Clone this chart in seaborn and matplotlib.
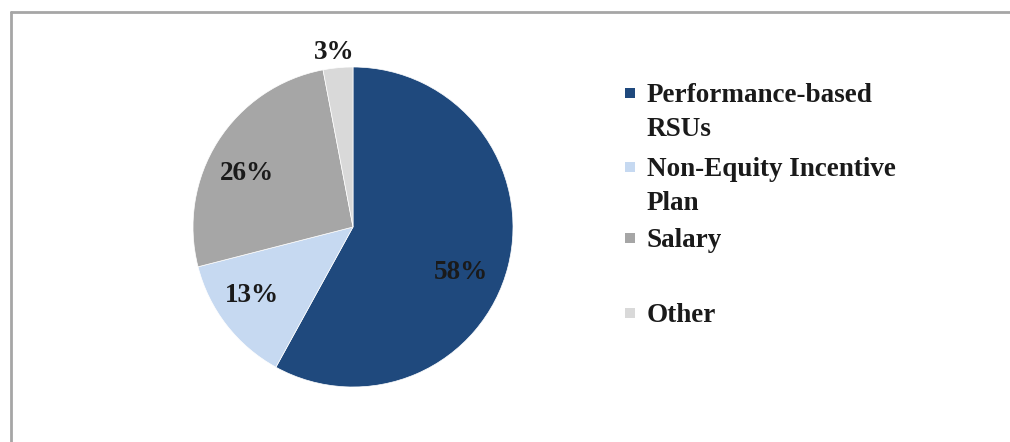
import matplotlib
matplotlib.use("Agg")
import matplotlib.pyplot as plt
import seaborn as sns
import numpy as np
from matplotlib.lines import Line2D
from matplotlib.patches import Rectangle

categories = ["Performance-based\nRSUs", "Non-Equity Incentive\nPlan", "Salary", "Other"]
values = [58, 13, 26, 3]
labels_pct = ["58%", "13%", "26%", "3%"]
colors = ["#1f497d", "#c6d9f1", "#a6a6a6", "#d9d9d9"]

sns.set_theme(style="white")
plt.rcParams['font.family'] = ['Liberation Serif', 'DejaVu Serif']

W, H = 1010, 442
fig = plt.figure(figsize=(W / 100, H / 100), dpi=100)
fig.patch.set_facecolor("white")

cx, cy, r = 353, 227, 160
ax = fig.add_axes([(cx - r) / W, (H - cy - r) / H, 2 * r / W, 2 * r / H])
wedges, _ = ax.pie(values, colors=colors, startangle=90, counterclock=False,
                   radius=1.0, wedgeprops=dict(linewidth=0.5, edgecolor="white"))
ax.set_xlim(-1, 1)
ax.set_ylim(-1, 1)
ax.set_aspect("auto")
ax.axis("off")

# label placement: distance from centre and angular nudge (deg)
dist = [0.73, 0.76, 0.74, 1.10]
nudge = [-8.4, -3.6, 5.6, 0.8]
for w, lab, d, n in zip(wedges, labels_pct, dist, nudge):
    ang = np.deg2rad((w.theta1 + w.theta2) / 2 + n)
    ax.text(d * np.cos(ang), d * np.sin(ang), lab, ha="center", va="center",
            fontsize=19.5, fontweight="bold", color="#1a1a1a", clip_on=False)

# legend (manual, markers aligned with first line)
leg_y = [93, 167, 238, 313]
fs = 19.5
for cat, col, y in zip(categories, colors, leg_y):
    fig.patches.append(Rectangle((625 / W, (H - y - 5) / H), 10 / W, 10 / H,
                                 transform=fig.transFigure, facecolor=col,
                                 edgecolor="none"))
    fig.text(647 / W, (H - y + 10) / H, cat, ha="left", va="top", fontsize=fs,
             fontweight="bold", color="#1a1a1a", linespacing=1.45,
             transform=fig.transFigure)

# frame lines (top and left only)
fig.add_artist(Line2D([11 / W, 1], [(H - 12) / H, (H - 12) / H], color="#a6a6a6",
                      linewidth=2, transform=fig.transFigure))
fig.add_artist(Line2D([11 / W, 11 / W], [0, (H - 12) / H], color="#a6a6a6",
                      linewidth=2, transform=fig.transFigure))

fig.savefig("out.png", dpi=100)
